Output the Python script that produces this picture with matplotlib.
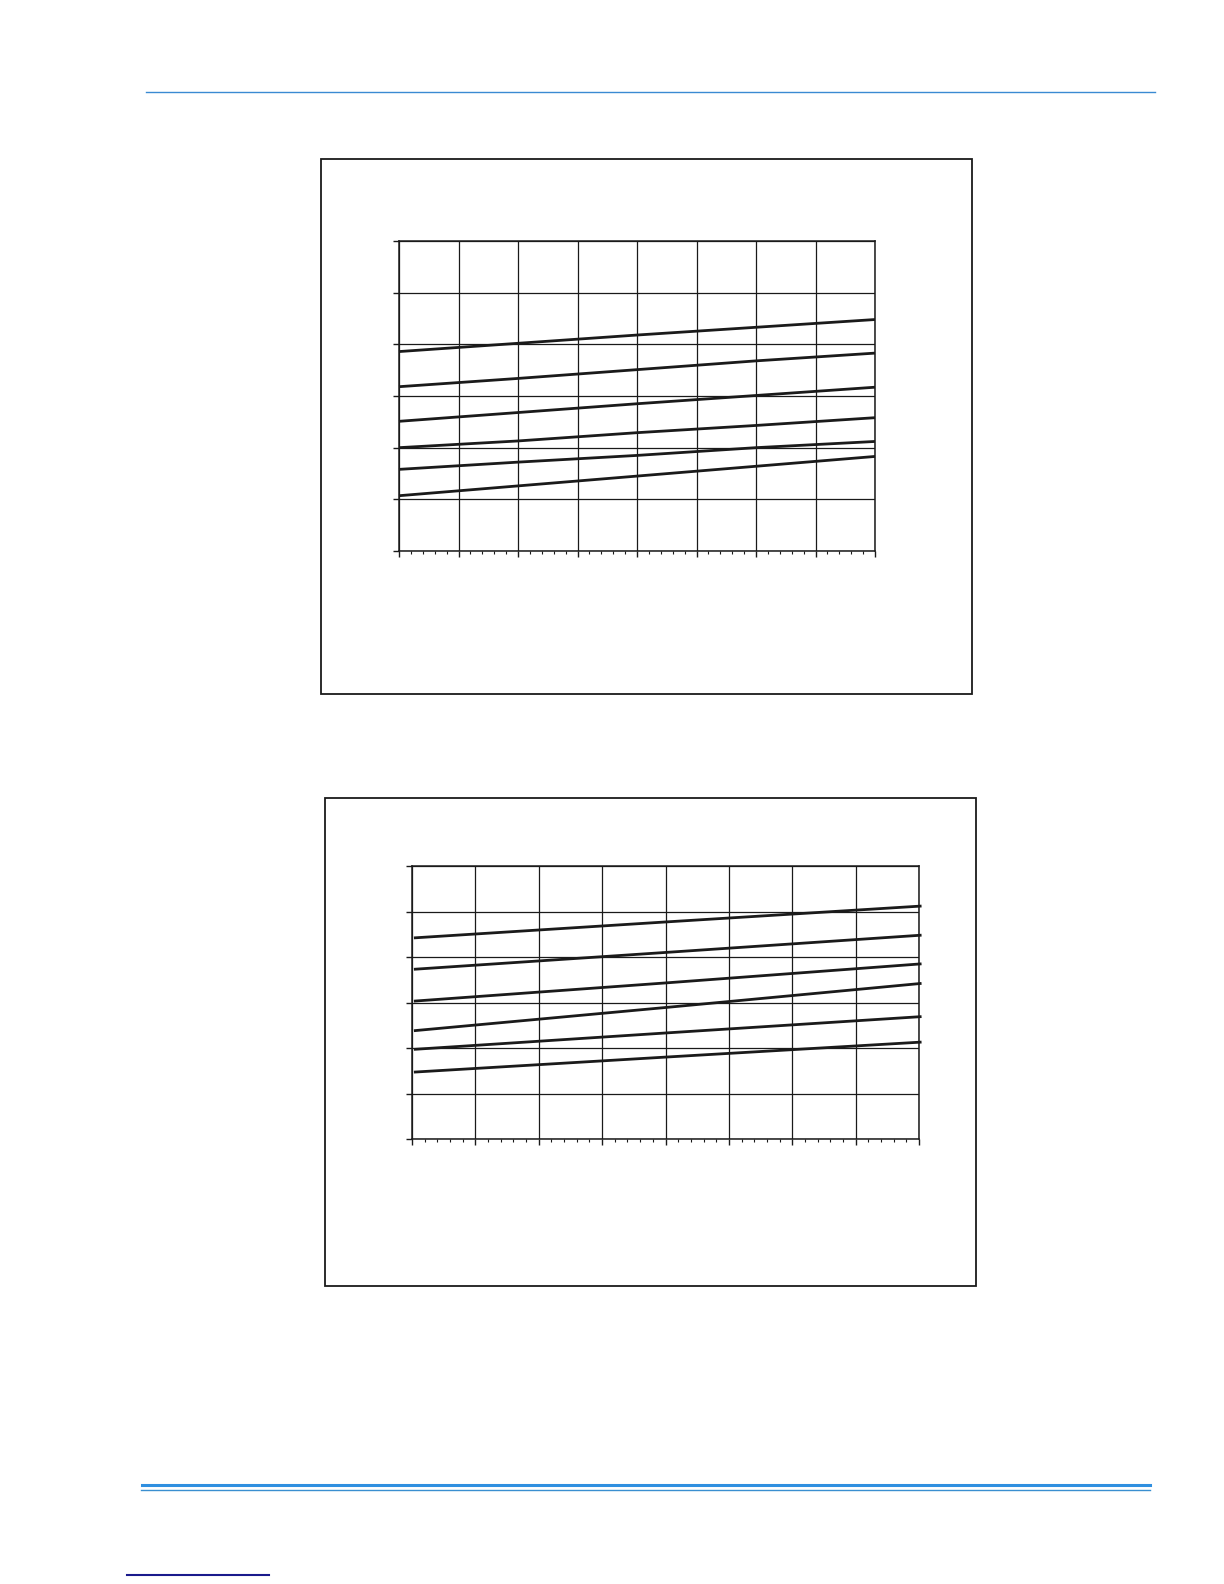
import matplotlib
matplotlib.use("Agg")
import matplotlib.pyplot as plt
from matplotlib.patches import Rectangle
from matplotlib.lines import Line2D
from matplotlib.ticker import MultipleLocator, NullFormatter

# upper chart: six near-parallel curves (8 x 6 cells)
top_x = [0, 2, 4, 6, 8]
top_curves = [
    [3.86, 4.02, 4.18, 4.33, 4.48],
    [3.18, 3.34, 3.51, 3.68, 3.83],
    [2.51, 2.68, 2.85, 3.01, 3.17],
    [2.00, 2.13, 2.29, 2.43, 2.58],
    [1.58, 1.72, 1.85, 2.00, 2.12],
    [1.07, 1.26, 1.45, 1.64, 1.83],
]

# lower chart
bot_x = [0.03, 4, 8.04]
bot_curves = [
    [4.42, 4.77, 5.12],
    [3.73, 4.10, 4.48],
    [3.03, 3.43, 3.85],
    [2.38, 2.89, 3.42],
    [1.97, 2.33, 2.69],
    [1.47, 1.80, 2.13],
]

x_max = 8
y_max = 6

W, H = 1224, 1584
fig = plt.figure(figsize=(W / 100, H / 100), dpi=100)


def px_rect(x0, y0, x1, y1):
    """pixel box (top-left origin) -> figure fraction [l, b, w, h]"""
    return [x0 / W, 1 - y1 / H, (x1 - x0) / W, (y1 - y0) / H]


def frame(x0, y0, x1, y1):
    l, b, w, h = px_rect(x0, y0, x1, y1)
    fig.patches.append(Rectangle((l, b), w, h, transform=fig.transFigure,
                                 fill=False, edgecolor='#1a1a1a', linewidth=1.3))


def hline(x0, x1, y, color, lw):
    fig.lines.append(Line2D([x0 / W, x1 / W], [1 - y / H, 1 - y / H],
                            transform=fig.transFigure, color=color, linewidth=lw))


def chart(rect, xs, curves):
    ax = fig.add_axes(rect)
    for ys in curves:
        ax.plot(xs, ys, color='#1a1a1a', linewidth=2.0, clip_on=False,
                solid_capstyle='butt')
    ax.set_xlim(0, x_max)
    ax.set_ylim(0, y_max)
    ax.xaxis.set_major_locator(MultipleLocator(1))
    ax.xaxis.set_minor_locator(MultipleLocator(0.2))
    ax.yaxis.set_major_locator(MultipleLocator(1))
    ax.xaxis.set_major_formatter(NullFormatter())
    ax.yaxis.set_major_formatter(NullFormatter())
    ax.tick_params(axis='x', which='major', direction='out', length=4, width=1, color='#1a1a1a')
    ax.tick_params(axis='x', which='minor', direction='out', length=2.5, width=0.8, color='#1a1a1a')
    ax.tick_params(axis='y', which='major', direction='out', length=4, width=1, color='#1a1a1a')
    ax.grid(True, which='major', color='#1a1a1a', linewidth=0.9)
    for s in ax.spines.values():
        s.set_color('#1a1a1a')
        s.set_linewidth(1.1)
    ax.set_facecolor('none')
    return ax


# page rules
hline(146, 1155, 92, '#3a8ad2', 1.0)
hline(142, 1150, 1485, '#2f8fe0', 2.2)
hline(141, 1150, 1489.5, '#3a8fd0', 1.0)
hline(127, 269, 1575, '#1a1a8c', 1.5)

# chart frames
frame(321, 159, 972, 694)
frame(325, 798, 976, 1286)

chart(px_rect(399, 241, 875, 551), top_x, top_curves)
chart(px_rect(412, 866, 919, 1139), bot_x, bot_curves)

fig.savefig("out.png", dpi=100)
